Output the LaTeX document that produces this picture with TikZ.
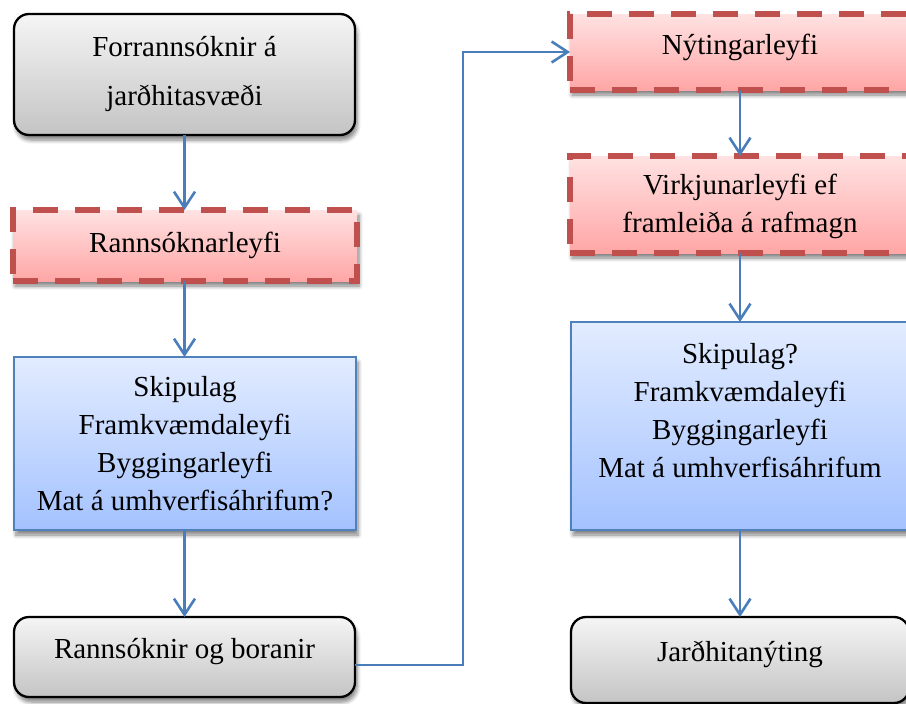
\documentclass[tikz,border=0pt]{standalone}
\usepackage{fontspec}
\setmainfont{Liberation Serif}
\usetikzlibrary{arrows.meta,shadows.blur}
\definecolor{arrblue}{HTML}{4A7EBB}
\definecolor{redline}{HTML}{C0504D}
\definecolor{bluline}{HTML}{4F81BD}
\definecolor{grtop}{HTML}{F5F5F5}
\definecolor{grbot}{HTML}{C4C4C4}
\definecolor{rdtop}{HTML}{FFE2E2}
\definecolor{rdbot}{HTML}{FFA6A6}
\definecolor{bltop}{HTML}{E2ECFF}
\definecolor{blbot}{HTML}{A4C2FF}
\tikzset{
  base/.style n args={2}{minimum width=#1, minimum height=#2, inner sep=0pt, outer sep=0pt,
    blur shadow={shadow xshift=2pt, shadow yshift=-5pt, shadow blur steps=6, shadow blur radius=4pt, shadow opacity=50}},
  greybox/.style={draw=black, line width=2.3pt, rounded corners=15pt, top color=grtop, bottom color=grbot},
  redbox/.style={draw=redline, line width=5.5pt, dash pattern=on 25pt off 17pt, top color=rdtop, bottom color=rdbot},
  bluebox/.style={draw=bluline, line width=2pt, top color=bltop, bottom color=blbot},
  txt/.style={font=\fontsize{29}{38}\selectfont, align=center, inner sep=0pt},
  arr/.style={draw=arrblue, line width=2.6pt, -{Straight Barb[length=16pt,width=21pt,line width=2.6pt]}}
}
\begin{document}
\begin{tikzpicture}[x=1pt,y=-1pt]
\useasboundingbox (0,0) rectangle (906,704);
\clip (0,0) rectangle (906,704);
% left column
\node[base={341pt}{121pt}, greybox] (b1) at (184.5,74.5) {};
\node[txt, font=\fontsize{29}{49}\selectfont] (t1) at (b1.center) {Forrannsóknir á\\jarðhitasvæði};
\node[base={344pt}{71pt}, redbox] (b2) at (185,245.5) {};
\node[txt] (t2) at (b2.center) {Rannsóknarleyfi};
\node[base={342pt}{173pt}, bluebox] (b3) at (185,443.5) {};
\node[txt] (t3) at (b3.center) {Skipulag\\Framkvæmdaleyfi\\Byggingarleyfi\\Mat á umhverfisáhrifum?};
\node[base={341pt}{80pt}, greybox] (b4) at (184.5,657) {};
\node[txt, yshift=5pt] (t4) at (b4.center) {Rannsóknir og boranir};
% right column
\node[base={340pt}{76pt}, redbox] (b5) at (740,52) {};
\node[txt, yshift=5pt] (t5) at (b5.center) {Nýtingarleyfi};
\node[base={340pt}{97pt}, redbox] (b6) at (740,204.5) {};
\node[txt, yshift=-2pt] (t6) at (b6.center) {Virkjunarleyfi ef\\framleiða á rafmagn};
\node[base={338pt}{208pt}, bluebox] (b7) at (740,426) {};
\node[txt, yshift=15pt] (t7) at (b7.center) {Skipulag?\\Framkvæmdaleyfi\\Byggingarleyfi\\Mat á umhverfisáhrifum};
\node[base={338pt}{86pt}, greybox] (b8) at (740,660) {};
\node[txt, yshift=6pt] (t8) at (b8.center) {Jarðhitanýting};
% connectors
\draw[arr] (b1.south) -- (b1.south |- b2.north);
\draw[arr] (b1.south |- b2.south) -- (b1.south |- b3.north);
\draw[arr] (b1.south |- b3.south) -- (b1.south |- b4.north);
\draw[arr] ([yshift=-8pt]b4.east) -- ++(108,0) |- (b5.west);
\draw[arr] (b5.south) -- (b6.north);
\draw[arr] (b6.south) -- (b7.north);
\draw[arr] (b7.south) -- (b8.north);
\end{tikzpicture}
\end{document}
